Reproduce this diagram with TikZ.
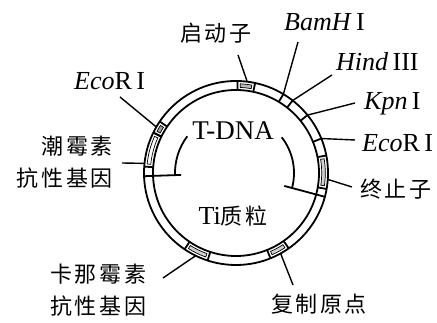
\documentclass[tikz,border=0pt]{standalone}
\usepackage{fontspec}
\setmainfont{Liberation Serif}
\newfontfamily\cjk[LetterSpace=12]{Noto Sans CJK SC}
\usetikzlibrary{calc}
\begin{document}
\begin{tikzpicture}[x=1pt,y=1pt,
  ring/.style={line width=1.8pt},
  leader/.style={line width=1.4pt},
  lat/.style={font=\fontsize{26}{30}\selectfont, inner sep=0pt},
  zh/.style={font=\cjk\fontsize{22}{32}\selectfont, inner sep=0pt},
  band/.style={line width=0.7pt, fill=gray!40}]
\useasboundingbox (0,0) rectangle (437,323);
\coordinate (c) at (236,150);
% ring
\draw[ring] (c) circle[radius=92];
\draw[ring] (c) circle[radius=83];
% single dividers
\foreach \a in {59,52,39,22,-15,182}
  \draw[ring] ($(c)+(\a:83)$) -- ($(c)+(\a:92)$);
% gene boxes
\foreach \a/\b/\f in {78/89/gray!55,-10/11/gray!35,-68/-55/gray!35,236/252/gray!35,154/176/white,146/154/gray!75}{
  \draw[ring] ($(c)+(\a:83)$) -- ($(c)+(\a:92)$);
  \draw[ring] ($(c)+(\b:83)$) -- ($(c)+(\b:92)$);
  \draw[band,fill=\f] ($(c)+({\a+1.8}:85.7)$) arc[start angle={\a+1.8}, end angle={\b-1.8}, radius=85.7]
     -- ($(c)+({\b-1.8}:89.3)$) arc[start angle={\b-1.8}, end angle={\a+1.8}, radius=89.3] -- cycle;
}
% T-DNA brackets
\draw[ring] ($(c)+(143:61)$) arc[start angle=143, end angle=182, radius=61];
\draw[ring] ($(c)+(182:55)$) -- ($(c)+(182:83)$);
\draw[ring] ($(c)+(38:58)$) arc[start angle=38, end angle=-15, radius=58];
\draw[ring] ($(c)+(-15:50)$) -- ($(c)+(-15:83)$);
% ring anchor points for leaders
\coordinate (rPro) at ($(c)+(83:92)$);
\coordinate (rBam) at ($(c)+(59:92)$);
\coordinate (rHind) at ($(c)+(52:92)$);
\coordinate (rKpn) at ($(c)+(39:92)$);
\coordinate (rEcoR) at ($(c)+(22:92)$);
\coordinate (rTer) at ($(c)+(-4:92)$);
\coordinate (rOri) at ($(c)+(-61:92)$);
\coordinate (rKan) at ($(c)+(244:92)$);
\coordinate (rHyg) at ($(c)+(174:92)$);
\coordinate (rEcoL) at ($(c)+(150:92)$);
% free ends
\coordinate (fPro) at (238,268);
\coordinate (fBam) at (298,281);
\coordinate (fHind) at (332,248);
\coordinate (fKpn) at (355,220);
\coordinate (fEcoR) at (355,183);
\coordinate (fTer) at (352,136);
\coordinate (fOri) at (293,38);
\coordinate (fKan) at (163,45);
\coordinate (fHyg) at (122,160);
\coordinate (fEcoL) at (120,226);
\foreach \p in {Pro,Bam,Hind,Kpn,EcoR,Ter,Ori,Kan,Hyg,EcoL}
  \draw[leader] (f\p) -- (r\p);
% labels
\node[zh] (tPro) at (216,290) {启动子};
\node[lat,anchor=base west] (tBam) at (284,292) {\textit{BamH}\,I};
\node[lat,anchor=base west] (tHind) at (336,252) {\textit{Hind}\,III};
\node[lat,anchor=base west] (tKpn) at (364,213) {\textit{Kpn}\,I};
\node[lat,anchor=base west] (tEcoR) at (362,171) {\textit{Eco}R\,I};
\node[zh] (tTer) at (396,134) {终止子};
\node[zh] (tOri) at (319,19) {复制原点};
\node[zh,align=left,anchor=west] (tKan) at (50,33) {卡那霉素\\抗性基因};
\node[zh,align=right,anchor=east] (tHyg) at (113,161) {潮霉素\\抗性基因};
\node[lat,anchor=base west] (tEcoL) at (74,233) {\textit{Eco}R\,I};
\node[lat,anchor=base,font=\fontsize{27}{30}\selectfont] (tT) at (233,183) {T-DNA};
\node[lat] (tTi) at (233,107) {Ti{\cjk\fontsize{22}{30}\selectfont 质粒}};
\end{tikzpicture}
\end{document}
